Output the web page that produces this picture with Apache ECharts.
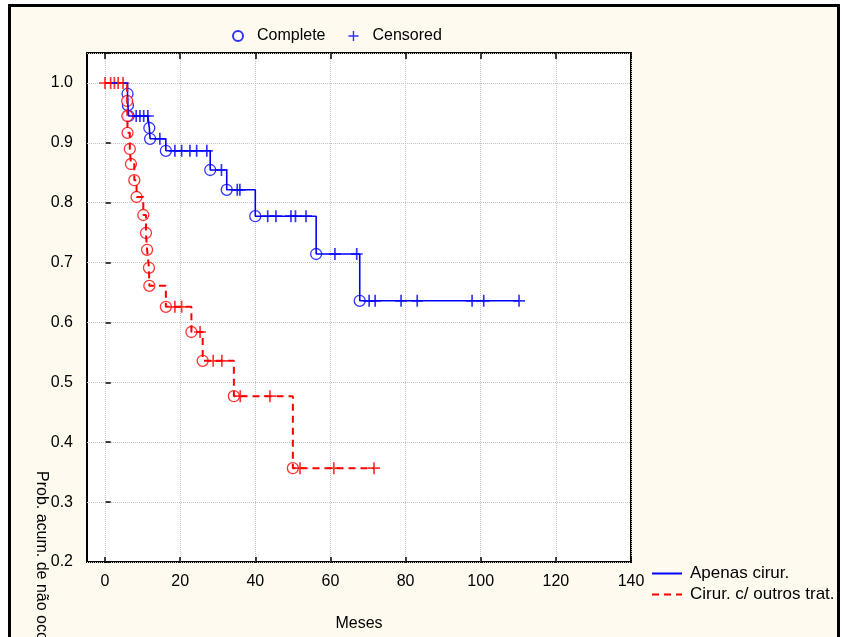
<!DOCTYPE html>
<html>
<head>
<meta charset="utf-8">
<script src="https://cdn.jsdelivr.net/npm/echarts@6/dist/echarts.min.js"></script>
<style>
  body { margin: 0; background: #fff; }
  #frame { position: absolute; left: 8px; top: 4px; width: 826px; height: 700px;
           border: 3px solid #000; background: #fffaef; }
  #chart { position: absolute; left: 0; top: 0; width: 842px; height: 637px; }
</style>
</head>
<body>
<div id="frame"></div>
<div id="chart"></div>
<script>
// Apenas cirur. (azul)
var blueEventT = [6.0, 6.1, 6.3, 11.8, 12.0, 16.2, 28.0, 32.4, 40.0, 56.2, 67.8];
var blueEventS = [0.982, 0.963, 0.945, 0.925, 0.907, 0.887, 0.855, 0.822, 0.778, 0.715, 0.637];
var blueCensT = [8.3, 9.3, 10.3, 11.4, 14.6, 18.6, 20.4, 22.6, 24.4, 27.1, 31.0, 35.2, 35.9,
                 43.3, 45.5, 49.5, 50.7, 53.5, 61.2, 67.0, 70.3, 71.9, 78.8, 83.1, 97.7, 100.8, 110.2];
var blueCensS = [0.945, 0.945, 0.945, 0.945, 0.907, 0.887, 0.887, 0.887, 0.887, 0.887, 0.855, 0.822, 0.822,
                 0.778, 0.778, 0.778, 0.778, 0.778, 0.715, 0.715, 0.637, 0.637, 0.637, 0.637, 0.637, 0.637, 0.637];

// Cirur. c/ outros trat. (vermelho)
var redEventT = [5.9, 5.95, 6.0, 6.6, 6.9, 7.8, 8.4, 10.2, 10.9, 11.2, 11.7, 11.8, 16.2, 23.0, 26.0, 34.3, 50.0];
var redEventS = [0.970, 0.945, 0.917, 0.890, 0.865, 0.838, 0.810, 0.780, 0.750, 0.722, 0.692, 0.662,
                 0.627, 0.585, 0.537, 0.478, 0.358];
var redCensT = [0, 1.5, 2.5, 3.5, 4.8, 18.6, 20.4, 25.3, 28.8, 31.1, 36.0, 43.9, 51.9, 60.9, 71.6];
var redCensS = [1, 1, 1, 1, 1, 0.627, 0.627, 0.585, 0.537, 0.537, 0.478, 0.478, 0.358, 0.358, 0.358];

var X_MIN = -5, X_MAX = 140, X_STEP = 20;
var Y_MIN = 0.2, Y_MAX = 1.05, Y_STEP = 0.1;

function pairs(t, s) {
    return t.map(function (v, i) { return [v, s[i]]; });
}
function stepData(et, es, ct, cs) {
    var pts = pairs(et, es).map(function (p) { return [p[0], p[1], 0]; })
        .concat(pairs(ct, cs).map(function (p) { return [p[0], p[1], 1]; }));
    pts.sort(function (a, b) { return a[0] - b[0] || a[2] - b[2]; });
    return [[0, 1]].concat(pts.map(function (p) { return [p[0], p[1]]; }));
}

var BLUE = '#0000ff', RED = '#ff0000';
var FONT = 'Liberation Sans, Arial, sans-serif';
var plusPath = 'path://M4.3,0H5.7V4.3H10V5.7H5.7V10H4.3V5.7H0V4.3H4.3Z';

var chart = echarts.init(document.getElementById('chart'));

var option = {
    animation: false,
    backgroundColor: 'transparent',
    textStyle: { fontFamily: FONT },
    grid: [
        { left: 87, right: 211, top: 53, bottom: 74, show: true, backgroundColor: '#fff',
          borderColor: '#000', borderWidth: 2 },
        { left: 105, right: 211, top: 53, bottom: 74 }
    ],
    xAxis: [
        { gridIndex: 0, type: 'value', min: X_MIN, max: X_MAX,
          name: 'Meses', nameLocation: 'middle', nameGap: 54,
          nameTextStyle: { color: '#000', fontSize: 16, fontFamily: FONT },
          axisLine: { show: false }, axisTick: { show: false },
          axisLabel: { show: false }, splitLine: { show: false } },
        { gridIndex: 1, type: 'value', min: 0, max: X_MAX, interval: X_STEP,
          axisLine: { show: false },
          axisTick: { show: true, inside: true, length: 6, lineStyle: { color: '#000', width: 1.5 } },
          axisLabel: { color: '#000', fontSize: 16, margin: 11, fontFamily: FONT },
          splitLine: { show: true, lineStyle: { color: '#c4c4c4', type: 'dotted', width: 1 } } },
        { gridIndex: 1, type: 'value', position: 'top', min: 0, max: X_MAX, interval: X_STEP,
          axisLine: { show: false },
          axisTick: { show: true, inside: true, length: 6, lineStyle: { color: '#000', width: 1.5 } },
          axisLabel: { show: false }, splitLine: { show: false } }
    ],
    yAxis: [
        { gridIndex: 0, type: 'value', min: Y_MIN, max: Y_MAX, interval: Y_STEP,
          axisLine: { show: false },
          axisTick: { show: true, inside: true, length: 5, lineStyle: { color: '#000', width: 1.5 } },
          axisLabel: { color: '#000', fontSize: 16, margin: 14, fontFamily: FONT,
                       formatter: function (v) {
                           return Math.abs(v * 10 - Math.round(v * 10)) < 1e-6 ? v.toFixed(1) : '';
                       } },
          splitLine: { show: true, lineStyle: { color: '#c4c4c4', type: 'dotted', width: 1 } } },
        { gridIndex: 1, type: 'value', min: Y_MIN, max: Y_MAX, show: false }
    ],
    legend: [
        { data: ['Complete', 'Censored'], left: 227, top: 23, itemWidth: 28, itemHeight: 10,
          itemGap: 23, textStyle: { color: '#000', fontSize: 16, fontFamily: FONT } },
        { data: ['Apenas cirur.', 'Cirur. c/ outros trat.'], orient: 'vertical', left: 646, top: 560,
          itemWidth: 30, itemHeight: 12, itemGap: 4, itemStyle: { opacity: 0 },
          textStyle: { color: '#000', fontSize: 17, fontFamily: FONT, padding: [0, 0, 0, 3] } }
    ],
    graphic: [
        { type: 'text', left: 33, top: 471, rotation: -Math.PI / 2,
          style: { text: 'Prob. acum. de não ocorrência', fill: '#000', fontSize: 16, fontFamily: FONT } }
    ],
    series: [
        { name: 'Apenas cirur.', type: 'line', step: 'end', xAxisIndex: 1, yAxisIndex: 1,
          symbol: 'none', data: stepData(blueEventT, blueEventS, blueCensT, blueCensS),
          lineStyle: { color: BLUE, width: 1.6 }, itemStyle: { color: BLUE } },
        { name: 'Complete', type: 'scatter', xAxisIndex: 1, yAxisIndex: 1, symbol: 'circle',
          symbolSize: 11, data: pairs(blueEventT, blueEventS),
          itemStyle: { color: '#fff', borderColor: BLUE, borderWidth: 1.3 } },
        { name: 'Censored', type: 'scatter', xAxisIndex: 1, yAxisIndex: 1, symbol: plusPath,
          symbolSize: 12, data: pairs(blueCensT, blueCensS), itemStyle: { color: BLUE } },
        { name: 'Cirur. c/ outros trat.', type: 'line', step: 'end', xAxisIndex: 1, yAxisIndex: 1,
          symbol: 'none', data: stepData(redEventT, redEventS, redCensT, redCensS),
          lineStyle: { color: RED, width: 2, type: [7, 5] }, itemStyle: { color: RED } },
        { name: 'Complete', type: 'scatter', xAxisIndex: 1, yAxisIndex: 1, symbol: 'circle',
          symbolSize: 11, data: pairs(redEventT, redEventS),
          itemStyle: { color: '#fff', borderColor: RED, borderWidth: 1.3 } },
        { name: 'Censored', type: 'scatter', xAxisIndex: 1, yAxisIndex: 1, symbol: plusPath,
          symbolSize: 12, data: pairs(redCensT, redCensS), itemStyle: { color: RED } }
    ]
};

chart.setOption(option);
</script>
</body>
</html>
